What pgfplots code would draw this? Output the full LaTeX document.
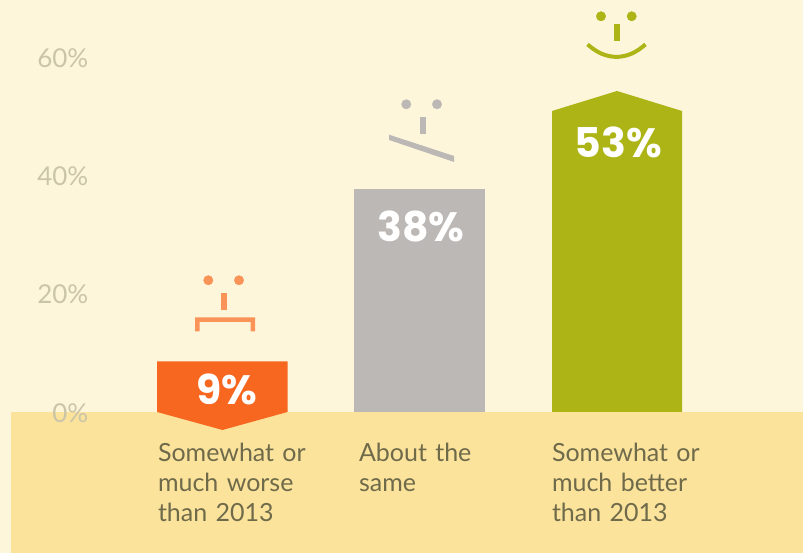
\documentclass[border=0pt]{standalone}
\usepackage{pgfplots}
\pgfplotsset{compat=1.18}
\usepackage{fontspec}
\setmainfont{Lato}
\newfontfamily\valfont{Poppins Bold}
\definecolor{bgc}{HTML}{FEF6DA}
\definecolor{bandc}{HTML}{FCE39C}
\definecolor{orangec}{HTML}{F76720}
\definecolor{orangel}{HTML}{FA9357}
\definecolor{greyc}{HTML}{BCB8B5}
\definecolor{olivec}{HTML}{ADB415}
\definecolor{labc}{HTML}{6E6A4A}
\definecolor{tickc}{HTML}{CAC5A9}
\begin{document}
\begin{tikzpicture}
\useasboundingbox (0,0) rectangle (803pt,553pt);
\begin{axis}[
  at={(0,0)}, anchor=south west,
  scale only axis, width=803pt, height=553pt,
  xmin=0, xmax=803, ymin=-23.82, ymax=69.59,
  axis on top=true,
  axis line style={draw=none}, tick style={draw=none},
  axis background/.style={fill=bgc},
  xtick={243,444,637},
  xticklabels={Somewhat or\\much worse\\than 2013, About the\\same, Somewhat or\\much better\\than 2013},
  x tick label style={text width=170pt, align=left, anchor=north, inner sep=0pt, yshift=110.5pt,
    font=\fontsize{25}{30}\selectfont, text=labc},
  ytick={0,20,40,60},
  yticklabels={0\%,20\%,40\%,60\%},
  y tick label style={anchor=east, inner sep=0pt, xshift=88.5pt, yshift=-1pt,
    font=\fontsize{26}{28}\selectfont, text=tickc},
  clip=false,
]
% band
\addplot[fill=bandc, draw=none] coordinates {(11,0) (803,0) (803,-23.82) (11,-23.82)} -- cycle;
% bars
\addplot[fill=orangec, draw=none] coordinates {(157,8.56) (287.5,8.56) (287.5,0) (222.5,-3.04) (157,0)} -- cycle;
\addplot[fill=greyc, draw=none] coordinates {(354,37.67) (485,37.67) (485,0) (354,0)} -- cycle;
\addplot[fill=olivec, draw=none] coordinates {(552,50.84) (617,54.22) (682,50.84) (682,0) (552,0)} -- cycle;
% face 1
\addplot[only marks, mark=*, mark size=4.7pt, color=orangel] coordinates {(208.3,22.25) (239,22.25)};
\addplot[fill=orangel, draw=none] coordinates {(221,20.10) (227,20.10) (227,17.23) (221,17.23)} -- cycle;
\addplot[fill=orangel, draw=none] coordinates {(195,16.0) (255,16.0) (255,13.63) (250.5,13.63) (250.5,15.2) (199.5,15.2) (199.5,13.63) (195,13.63)} -- cycle;
% face 2
\addplot[only marks, mark=*, mark size=4.7pt, color=greyc] coordinates {(406.3,51.98) (437,51.98)};
\addplot[fill=greyc, draw=none] coordinates {(420,49.83) (426,49.83) (426,46.96) (420,46.96)} -- cycle;
\addplot[fill=greyc, draw=none] coordinates {(389,46.84) (454,43.24) (454,42.23) (389,45.95)} -- cycle;
% face 3
\addplot[only marks, mark=*, mark size=4.7pt, color=olivec] coordinates {(601,66.84) (631.7,66.84)};
\addplot[fill=olivec, draw=none] coordinates {(614,65.54) (620,65.54) (620,62.67) (614,62.67)} -- cycle;
\addplot[olivec, line width=4pt, smooth, mark=none] coordinates {(587.5,62.08) (594.5,61.18) (601.5,60.52) (608.5,60.14) (616.5,59.97) (624.5,60.14) (631.5,60.52) (638.5,61.18) (645.5,62.08)};
% value labels
\node[text=white, font=\valfont\fontsize{41}{41}\selectfont, inner sep=0pt] at (axis cs:226.5,3.75) {9\%};
\node[text=white, font=\valfont\fontsize{41}{41}\selectfont, inner sep=0pt] at (axis cs:421,31.35) {38\%};
\node[text=white, font=\valfont\fontsize{41}{41}\selectfont, inner sep=0pt] at (axis cs:618.5,45.55) {53\%};
\end{axis}
\end{tikzpicture}
\end{document}
